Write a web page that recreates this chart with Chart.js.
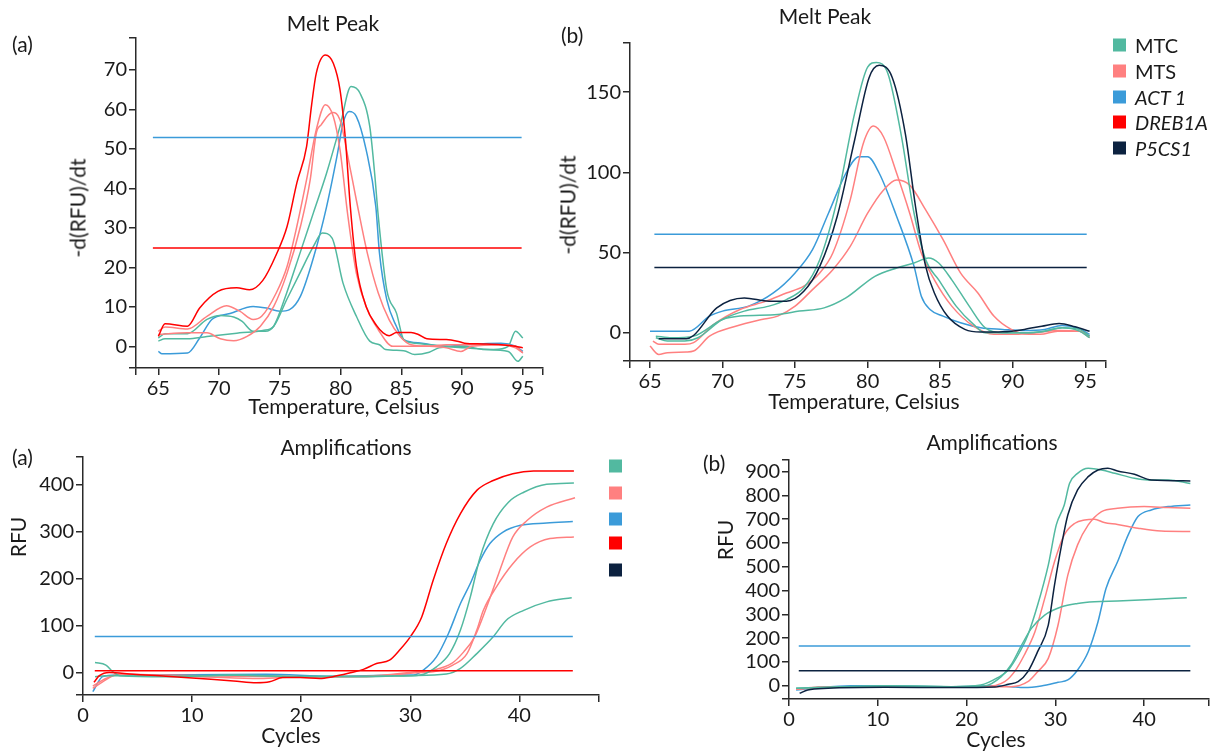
<!DOCTYPE html>
<html>
<head>
<meta charset="utf-8">
<script src="https://cdn.jsdelivr.net/npm/chart.js@4.4.1/dist/chart.umd.min.js"></script>
<style>
  body { margin: 0; width: 1218px; height: 752px; background: #fff; position: relative; overflow: hidden; font-family: Lato, sans-serif; color: #1a1a1a; }
  canvas { position: absolute; }
  .txt { position: absolute; white-space: nowrap; transform: translate(-50%, -50%); font-size: 21px; line-height: 1; }
  .rot { transform: translate(-50%, -50%) rotate(-90deg); }
  .lab { position: absolute; white-space: nowrap; font-size: 21px; line-height: 1; transform: translateY(-50%); }
  .sq { position: absolute; width: 13px; height: 13px; transform: translateY(-50%); }
  .it { font-style: italic; }
</style>
</head>
<body>
<canvas id="meltA" width="560" height="420" style="left:0;top:0"></canvas>
<canvas id="meltB" width="678" height="420" style="left:540px;top:0"></canvas>
<canvas id="ampA" width="620" height="332" style="left:0;top:420px"></canvas>
<canvas id="ampB" width="518" height="332" style="left:700px;top:420px"></canvas>

<!-- panel labels, titles, axis titles -->
<div class="lab" style="left:12px;top:43px">(a)</div>
<div class="txt" style="left:333px;top:22px">Melt Peak</div>
<div class="txt rot" style="left:77px;top:208px">-d(RFU)/dt</div>
<div class="txt" style="left:344px;top:405px">Temperature, Celsius</div>

<div class="lab" style="left:561px;top:34px">(b)</div>
<div class="txt" style="left:825px;top:15px">Melt Peak</div>
<div class="txt rot" style="left:567px;top:205px">-d(RFU)/dt</div>
<div class="txt" style="left:864px;top:400px">Temperature, Celsius</div>
<div id="legendB"></div>

<div class="lab" style="left:12px;top:456px">(a)</div>
<div class="txt" style="left:346px;top:446px">Amplifications</div>
<div class="txt rot" style="left:17px;top:537px">RFU</div>
<div class="txt" style="left:291px;top:734px">Cycles</div>
<div id="legendA"></div>

<div class="lab" style="left:703px;top:462px">(b)</div>
<div class="txt" style="left:992px;top:441px">Amplifications</div>
<div class="txt rot" style="left:724px;top:540px">RFU</div>
<div class="txt" style="left:996px;top:738px">Cycles</div>

<script>
// legend entries and colours
const genes = ['MTC', 'MTS', 'ACT 1', 'DREB1A', 'P5CS1'];
const geneItalic = [false, false, true, true, true];
const geneColors = ['#52b9a0', '#ff8080', '#3b9bd9', '#ff0000', '#0c2240'];

// Melt peak (a): [temperature, -d(RFU)/dt]
const meltA_MTC1 = [[65,2.1],[65.55,3.2],[67.4,3.2],[69,6.8],[70.1,7.8],[71.2,7.4],[71.9,6.3],[72.8,3.8],[73.8,3.8],[74.5,5.1],[75.56,13.5],[76.66,23.6],[77.76,33.8],[78.85,43.9],[79.95,55.7],[80.86,65.8],[81.6,64.1],[82.4,55.7],[82.8,43.9],[83.1,33],[83.8,14.3],[84.6,8.4],[85.2,1.7],[86.1,0.8],[87.3,0.4],[88.7,0],[90.2,-0.4],[92.6,-0.8],[93.8,0],[94.4,3.8],[95,2.1]];
const meltA_MTC2 = [[65,1.3],[65.55,1.9],[67.4,1.9],[69,2.5],[71.7,3.4],[73.6,4],[74.5,5.1],[75.56,11.8],[76.66,18.6],[77.76,25.3],[78.5,28.7],[79.3,27.4],[80.2,16],[81.3,7.6],[82.4,1.3],[83.2,0.4],[83.7,-0.8],[85.2,-1.1],[86.1,-2.1],[87.3,-1.5],[88.1,-0.4],[90.2,0],[91.7,-0.8],[93.8,-1.3],[94.6,-3.8],[95,-2.5]];
const meltA_MTS1 = [[65,3.8],[65.55,4.9],[67.4,4.4],[69,7.6],[70.6,10.3],[71.7,8.9],[72.8,6.8],[73.5,7.6],[74.7,13.5],[75.6,20.3],[76.4,30.4],[77.2,42.2],[78,54.9],[78.75,61.2],[79.4,58.2],[79.95,49.8],[80.6,33],[81.3,18.5],[82.2,9.3],[83.1,4.2],[84.3,0],[87.2,0],[88.7,0.4],[93.2,0.4],[94.4,0],[95,-1.7]];
const meltA_MTS2 = [[65,3],[67.4,3.4],[69,3.4],[70.1,1.9],[71.2,1.4],[72.3,2.5],[73.4,5.1],[74.5,10.1],[75.6,18.6],[76.7,30.4],[77.5,42.2],[78,54],[78.4,56.1],[79.35,59.2],[79.95,57.4],[80.6,48],[81.3,37],[82.2,23.6],[83.1,13.5],[84,6.7],[84.9,2.5],[85.8,0.4],[87.3,0],[88.7,-0.4],[89.9,-1.3],[90.8,0],[93.2,0.4],[94.4,-0.4],[95,-1.7]];
const meltA_ACT1 = [[65,-1.3],[65.3,-1.9],[67.4,-1.7],[68.4,2.1],[69.4,6.8],[70.9,8.3],[72.8,10.1],[73.9,9.7],[75,8.9],[75.8,9.3],[76.7,12.7],[77.8,22.8],[78.85,35.4],[79.7,48.1],[80.2,56.5],[80.7,59.5],[81.3,58.2],[82.1,49.8],[82.9,35.4],[83.2,23.6],[83.8,11.8],[84.6,5],[85.2,1.7],[86.7,0.8],[88.5,0],[90.2,0.4],[93.2,0.8],[94.4,0],[95,-1.3]];
const meltA_DREB1A = [[65,2.5],[65.55,5.7],[67.4,5.1],[68.4,9.7],[69.9,13.9],[71.45,14.8],[72.5,14.3],[73.6,16.7],[74.7,23.2],[75.6,30.4],[76.4,41.4],[77.2,50.6],[77.6,60.8],[78,69.2],[78.75,73.8],[79.4,71.7],[79.95,65],[80.4,52.3],[80.8,35.4],[81.3,20.3],[82.1,10.1],[83,5.1],[83.5,3.4],[84,2.7],[84.6,3.5],[85.8,3.5],[86.4,3],[87.1,1.9],[88.7,1.7],[89.6,1.3],[90.2,0.8],[91.7,0.6],[93.2,0.4],[94.4,0],[95,-0.4]];
const meltA_thrACT1 = [[64.55,52.9],[94.9,52.9]];
const meltA_thrDREB1A = [[64.55,24.9],[94.9,24.9]];

// Melt peak (b)
const meltB_MTC1 = [[65.4,-3.1],[66.2,-5.2],[67.4,-5.2],[68.3,-3.1],[70,8.3],[71.5,13.5],[73.2,16.6],[74.4,20.7],[75.6,28],[76.7,45.5],[77.9,82.8],[79.1,136.6],[80,165.6],[80.6,168.5],[81.4,161.5],[82.3,124],[83.2,74.5],[84,45.5],[84.9,33],[86.1,16.6],[87.3,5.2],[88.1,0],[89.3,0],[90.8,0],[92.2,1],[93.4,3.1],[94.6,2.1],[95.3,-2.1]];
const meltB_MTC2 = [[65.4,-2.1],[66.5,-3.1],[68,-2.1],[70,8.3],[71.2,10.4],[73.8,11.4],[75.3,13.5],[77,15.5],[78.5,21.7],[80.5,35.2],[82,40.4],[83.2,43.5],[84.2,46.6],[84.9,43.5],[85.8,33],[87,16.6],[88.1,3.1],[89.3,0],[90.8,0],[92.2,1],[93.4,3.1],[94.6,1],[95.3,-3.1]];
const meltB_MTS1 = [[65.2,-5.2],[65.6,-7.2],[67.4,-7.2],[68,-6.2],[69.4,5.2],[71.2,14.5],[73,19.7],[74.4,24.8],[75.6,29],[76.7,37.3],[77.6,49.7],[78.8,82.8],[79.7,118],[80.4,128.8],[81.1,122],[82,99.4],[82.9,74.5],[83.7,49.7],[84.6,33],[85.8,16.6],[87.3,4.1],[88.7,-1],[90.2,-1],[91.6,0],[93.1,1.4],[94.6,1],[95.3,-3.1]];
const meltB_MTS2 = [[65,-8.3],[65.6,-13.5],[66.2,-12.4],[67.5,-12],[68,-11.4],[69.1,-2.1],[70.9,4.1],[72.7,8.3],[73.8,10.4],[75,16.6],[76.2,26.9],[77.6,39.3],[78.8,53.8],[80,74.5],[81.1,89],[82,95.2],[82.9,92],[84,76.6],[85.2,58],[86.4,37.3],[87.6,24.8],[88.7,10.4],[89.9,2.1],[91.1,-1],[91.9,-1],[93.1,1],[94.6,1],[95.3,-2.1]];
const meltB_ACT1 = [[65,1],[67.7,1],[69.1,10.4],[70,13.5],[71.8,16.6],[73.5,24.8],[75,37.3],[76.2,51.8],[77.3,74.5],[78.5,99.4],[79.4,109.7],[80,109.7],[80.8,99.4],[82,72.5],[83.2,41.4],[83.7,22.8],[84.3,14.5],[85.2,10.4],[86.4,6.2],[87.8,3.1],[89.3,2.1],[90.8,1.4],[92.2,2.1],[93.4,4.6],[94.6,2.5],[95.3,-1]];
const meltB_P5CS1 = [[65.6,-3.7],[67.5,-3.7],[68,-1.7],[69.6,15.5],[71.5,21.7],[73.2,19.7],[74.4,19.7],[75.6,25.9],[76.7,41.4],[77.9,72.5],[79.1,120],[80.1,159],[80.8,166.7],[81.7,159],[82.6,124],[83.3,78.7],[84,41.4],[84.6,24.8],[85.5,10.4],[86.7,2.1],[87.8,0.4],[89.3,0.6],[90.8,2.1],[92,4.1],[93.2,5.8],[94.3,3.7],[95.3,1]];
const meltB_thrACT1 = [[65.3,61.4],[95.1,61.4]];
const meltB_thrP5CS1 = [[65.3,40.7],[95.1,40.7]];

// Amplifications (a): [cycle, RFU]
const ampA_MTC1 = [[1.1,-9],[2.1,-7],[4.6,-7],[8,-8],[13.8,-5.7],[20,-8],[26,-8],[30,-7],[30.9,-5.7],[32.4,12],[33.6,40],[34.6,90],[35.5,160],[36.4,245],[37.6,316],[39,362],[40.4,383],[42.5,400],[45,402.5]];
const ampA_MTC2 = [[1.1,21],[2.1,15.6],[2.75,1.4],[3.4,-7],[7.6,-9],[13.8,-6],[19.9,-9],[26,-9],[30,-7],[33.3,-3.6],[34.6,8.5],[36.1,40],[37.6,75.6],[38.8,111],[40.4,132],[42.5,150],[44.8,159]];
const ampA_MTS1 = [[0.9,-29],[2.1,-13],[3.4,-3.5],[7.6,-5.7],[13.8,-8],[19.9,-9],[26,-8],[30.6,1.4],[32.1,4.9],[33.8,19],[34.9,43.7],[35.9,75.6],[37,139],[38.1,210],[39.4,288],[40.7,323],[42.5,351.6],[45.1,371.5]];
const ampA_MTS2 = [[0.9,-34],[1.8,-20],[3.1,-5.7],[10.7,-9],[16.2,-13],[20,-9],[26,-9],[30.6,-0.7],[32.1,1.3],[33.9,15.5],[35.2,40],[36.1,90],[36.7,132],[37.9,182],[39.4,231],[41,266.7],[42.8,284.5],[45,288]];
const ampA_ACT1 = [[0.9,-41],[1.8,-9],[3.1,-5.7],[10,-5],[16.8,-4],[22.9,-8],[29,-5.7],[30.3,-5.7],[31.2,4.9],[32.4,33],[33.5,82.8],[34.6,146.5],[35.5,189],[36.4,238],[37.3,274],[38.5,298.5],[40.1,312.7],[42.5,317.6],[44.9,321]];
const ampA_DREB1A = [[1,-21],[1.5,-7],[2.4,0],[4.6,-4],[7.6,-8],[10.7,-13],[13.8,-18],[15.9,-22],[17.1,-20],[18.3,-11],[19.9,-11],[21.7,-13],[22.9,-9],[24.5,-0.7],[25.7,6.4],[26.9,19],[28.1,26],[29,47],[30,75.6],[31.05,118],[32.1,196],[33.3,274],[34.6,337.6],[36.1,387],[37.6,408],[39.4,422.5],[41.3,428],[45,428]];
const ampA_thrACT1 = [[1.08,76.4],[44.9,76.4]];
const ampA_thrDREB1A = [[1.08,3.4],[44.9,3.4]];

// Amplifications (b)
const ampB_MTC1 = [[0.8,-11],[3.3,-8],[10.8,-1.4],[18.3,-4],[21.6,2.8],[23.5,33.6],[24.7,66],[25.8,129],[26.9,213],[28,339],[29.2,507],[30.1,676],[31,760],[31.6,851],[32.5,893],[33.7,914],[35.2,907],[36.7,893],[38.9,872],[40.4,865],[42.7,865],[45.2,850]];
const ampB_MTC2 = [[0.8,-11],[3.3,-8],[10.8,-1.4],[18.3,-4],[22,-1.4],[23.9,38],[25,87],[26.2,171],[27.3,241],[28.8,297],[30.7,332],[32.5,346],[34.4,353],[37,356],[40.8,362],[44.8,370]];
const ampB_MTS1 = [[0.8,-15],[3.3,-8],[10.8,-4],[22,-4],[24.3,17],[25.4,59],[26.5,129],[27.7,227],[28.8,367],[29.9,521],[31,634],[32.2,683],[33.3,697],[34.4,700],[35.5,686],[37,678],[39.3,662],[41.9,650],[45.2,648]];
const ampB_MTS2 = [[0.8,-15],[3.3,-6],[10.8,-4],[20,-4],[25,-4],[26.9,17],[28,59],[29.2,115],[30.3,255],[31.4,465],[32.5,592],[33.7,676],[35.2,732],[37,746],[40,753],[42.7,749],[45.2,746]];
const ampB_ACT1 = [[0.8,-18],[3.3,-8],[7,0],[10.8,0],[18.3,-4],[23.2,0],[25,-4],[26.5,-8],[28.4,-1.4],[30.3,14],[31.4,24],[32.5,66],[33.7,143],[34.8,269],[35.7,409],[37,521],[38.2,634],[39.3,711],[40.8,739],[42.7,753],[45.2,760]];
const ampB_P5CS1 = [[1.2,-32],[2.1,-18],[4.4,-11],[10.8,-7],[18.3,-8],[23.2,-5.6],[24.7,5.6],[25.8,16.8],[26.9,59],[28,143],[29.2,255],[29.9,423],[30.7,592],[31.4,718],[32.5,823],[33.7,879],[34.8,907],[35.9,914],[37,903],[38.9,889],[40.8,865],[45.2,861]];
const ampB_thrACT1 = [[1.1,166.8],[45.2,166.8]];
const ampB_thrP5CS1 = [[1.1,63],[45.2,63]];

// tick labels
const meltA_xTicks = [65, 70, 75, 80, 85, 90, 95];
const meltA_yTicks = [0, 10, 20, 30, 40, 50, 60, 70];
const meltB_xTicks = [65, 70, 75, 80, 85, 90, 95];
const meltB_yTicks = [0, 50, 100, 150];
const amp_xTicks = [0, 10, 20, 30, 40];
const ampA_yTicks = [0, 100, 200, 300, 400];
const ampB_yTicks = [0, 100, 200, 300, 400, 500, 600, 700, 800, 900];

const C = {};
genes.forEach((g, i) => { C[g] = geneColors[i]; });

function axis(min, max, labels, size, isY) {
  return {
    type: 'linear',
    min: min,
    max: max,
    afterBuildTicks: s => {
      // round ticks plus a tick mark at each end of the axis
      const vals = [min].concat(labels.filter(v => v !== min)).concat([max]);
      s.ticks = vals.map(v => ({ value: v }));
    },
    afterFit: s => {
      if (isY) s.width = size; else s.height = size;
    },
    ticks: {
      autoSkip: false,
      maxRotation: 0,
      padding: isY ? 2 : 2,
      color: '#1a1a1a',
      font: { family: 'Lato', size: 20 },
      callback: v => labels.includes(v) ? String(v) : ''
    },
    grid: { drawOnChartArea: false, drawTicks: true, tickLength: 7, color: '#2a2a2a', lineWidth: 1.5 },
    border: { display: true, color: '#2a2a2a', width: 1.5 }
  };
}

function drawPanel(id, series, box) {
  const datasets = series.map(s => ({
    data: s[0],
    borderColor: s[1],
    borderWidth: 1.5,
    pointRadius: 0,
    fill: false,
    cubicInterpolationMode: 'monotone'
  }));
  return new Chart(document.getElementById(id), {
    type: 'line',
    data: { datasets: datasets },
    options: {
      responsive: false,
      animation: false,
      devicePixelRatio: 1,
      layout: { padding: { left: 0, top: box.top, right: box.right, bottom: 0 } },
      plugins: { legend: { display: false }, tooltip: { enabled: false } },
      scales: {
        x: axis(box.xMin, box.xMax, box.xTicks, box.xHeight, false),
        y: axis(box.yMin, box.yMax, box.yTicks, box.yWidth, true)
      }
    }
  });
}

drawPanel('meltA', [
  [meltA_thrACT1, C['ACT 1']], [meltA_thrDREB1A, C['DREB1A']],
  [meltA_DREB1A, C['DREB1A']], [meltA_MTS1, C['MTS']], [meltA_MTS2, C['MTS']],
  [meltA_MTC1, C['MTC']], [meltA_MTC2, C['MTC']], [meltA_ACT1, C['ACT 1']]
], { top: 38, right: 17, xHeight: 52, yWidth: 136, xMin: 63.16, xMax: 96.66, yMin: -5.5, yMax: 78.1, xTicks: meltA_xTicks, yTicks: meltA_yTicks });

drawPanel('meltB', [
  [meltB_thrACT1, C['ACT 1']], [meltB_thrP5CS1, C['P5CS1']],
  [meltB_P5CS1, C['P5CS1']], [meltB_MTC1, C['MTC']], [meltB_MTC2, C['MTC']],
  [meltB_MTS1, C['MTS']], [meltB_MTS2, C['MTS']], [meltB_ACT1, C['ACT 1']]
], { top: 43, right: 112, xHeight: 59, yWidth: 90, xMin: 63.62, xMax: 96.43, yMin: -17.6, yMax: 180.6, xTicks: meltB_xTicks, yTicks: meltB_yTicks });

drawPanel('ampA', [
  [ampA_thrACT1, C['ACT 1']], [ampA_thrDREB1A, C['DREB1A']],
  [ampA_DREB1A, C['DREB1A']], [ampA_MTC1, C['MTC']], [ampA_MTC2, C['MTC']],
  [ampA_MTS1, C['MTS']], [ampA_MTS2, C['MTS']], [ampA_ACT1, C['ACT 1']]
], { top: 37, right: 21, xHeight: 57, yWidth: 83, xMin: 0, xMax: 47.3, yMin: -48, yMax: 458, xTicks: amp_xTicks, yTicks: ampA_yTicks });

drawPanel('ampB', [
  [ampB_thrACT1, C['ACT 1']], [ampB_thrP5CS1, C['P5CS1']],
  [ampB_P5CS1, C['P5CS1']], [ampB_MTC1, C['MTC']], [ampB_MTC2, C['MTC']],
  [ampB_MTS1, C['MTS']], [ampB_MTS2, C['MTS']], [ampB_ACT1, C['ACT 1']]
], { top: 40, right: 9, xHeight: 53, yWidth: 89, xMin: 0, xMax: 47.3, yMin: -56, yMax: 949, xTicks: amp_xTicks, yTicks: ampB_yTicks });

// legends: top-right with names, bottom-left colour squares only
const legendB = document.getElementById('legendB');
const legendBY = [45, 71, 97, 122, 148];
genes.forEach((g, i) => {
  legendB.insertAdjacentHTML('beforeend',
    `<div class="sq" style="left:1113px;top:${legendBY[i]}px;background:${geneColors[i]}"></div>` +
    `<div class="lab${geneItalic[i] ? ' it' : ''}" style="left:1135px;top:${legendBY[i]}px;font-size:20px">${g}</div>`);
});
const legendA = document.getElementById('legendA');
const legendAY = [466, 493, 519, 543, 570];
genes.forEach((g, i) => {
  legendA.insertAdjacentHTML('beforeend',
    `<div class="sq" style="left:609px;top:${legendAY[i]}px;background:${geneColors[i]}"></div>`);
});
</script>
</body>
</html>
